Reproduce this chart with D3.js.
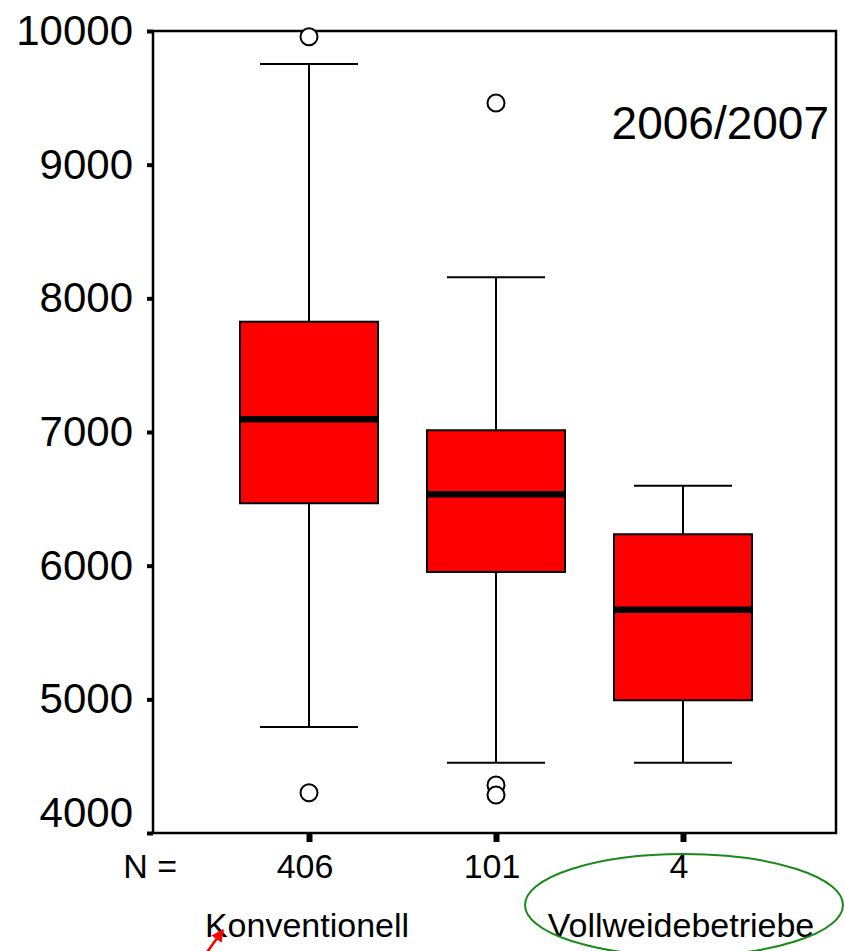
<!DOCTYPE html>
<html>
    <head>
        <title>Boxplot 2006/2007</title>
        <script src="https://d3js.org/d3.v7.min.js"></script>
        <style>
            body { margin: 0; background: white; }
            text { font-family: Arial, "Liberation Sans", sans-serif; fill: black; }
        </style>
    </head>
    <body>
        <svg id="chart" width="845" height="951"></svg>

        <script>
            // values
            var categories  = ["Konventionell", "Mitte", "Vollweidebetriebe"];
            var catLabels   = ["Konventionell", "", "Vollweidebetriebe"];
            var nCounts     = [406, 101, 4];
            var whiskerLow  = [4793, 4526, 4526];
            var q1          = [6467, 5953, 4993];
            var medians     = [7095, 6534, 5671];
            var q3          = [7825, 7013, 6235];
            var whiskerHigh = [9753, 8157, 6598];
            var outliers    = [[9957, 4301], [9461, 4359, 4284], []];
            var yTicks      = [4000, 5000, 6000, 7000, 8000, 9000, 10000];
            var title       = "2006/2007";

            svg = d3.select("#chart");

            left = 153; right = 836; top_ = 31; bottom = 833;

            y = d3.scaleLinear([4000, 10000], [bottom, top_]);
            x = d3.scalePoint(categories, [309, 683]);
            boxW = 138, capW = 98;

            // frame
            svg.append("rect")
                .attr("x", left).attr("y", top_)
                .attr("width", right - left).attr("height", bottom - top_)
                .attr("fill", "none").attr("stroke", "black").attr("stroke-width", 2.5);

            // y axis
            yAxis = svg.append("g")
                .attr("transform", "translate(" + left + ",0)")
                .call(d3.axisLeft(y).tickValues(yTicks).tickSize(6).tickPadding(14).tickFormat(d3.format("d")));
            yAxis.select(".domain").remove();
            yAxis.selectAll(".tick line").attr("stroke", "black").attr("stroke-width", 4);
            yAxis.selectAll(".tick text")
                .attr("font-size", 42)
                .attr("font-family", "Arial, 'Liberation Sans', sans-serif")
                .attr("dy", d => d == 4000 ? "-0.15em" : "0.32em");

            // x ticks
            xAxis = svg.append("g")
                .attr("transform", "translate(0," + bottom + ")")
                .call(d3.axisBottom(x).tickSize(9).tickFormat(""));
            xAxis.select(".domain").remove();
            xAxis.selectAll(".tick line").attr("stroke", "black").attr("stroke-width", 6);

            var rows = categories.map((c, i) => ({
                cat: c, lo: whiskerLow[i], q1: q1[i], med: medians[i],
                q3: q3[i], hi: whiskerHigh[i], out: outliers[i], n: nCounts[i], label: catLabels[i]
            }));

            g = svg.selectAll(".box").data(rows).enter().append("g").attr("class", "box");

            // whiskers
            g.append("line")
                .attr("x1", d => x(d.cat)).attr("x2", d => x(d.cat))
                .attr("y1", d => y(d.hi)).attr("y2", d => y(d.q3))
                .attr("stroke", "black").attr("stroke-width", 2);
            g.append("line")
                .attr("x1", d => x(d.cat)).attr("x2", d => x(d.cat))
                .attr("y1", d => y(d.q1)).attr("y2", d => y(d.lo))
                .attr("stroke", "black").attr("stroke-width", 2);
            g.append("line")
                .attr("x1", d => x(d.cat) - capW / 2).attr("x2", d => x(d.cat) + capW / 2)
                .attr("y1", d => y(d.hi)).attr("y2", d => y(d.hi))
                .attr("stroke", "black").attr("stroke-width", 2);
            g.append("line")
                .attr("x1", d => x(d.cat) - capW / 2).attr("x2", d => x(d.cat) + capW / 2)
                .attr("y1", d => y(d.lo)).attr("y2", d => y(d.lo))
                .attr("stroke", "black").attr("stroke-width", 2);

            // boxes
            g.append("rect")
                .attr("x", d => x(d.cat) - boxW / 2)
                .attr("y", d => y(d.q3))
                .attr("width", boxW)
                .attr("height", d => y(d.q1) - y(d.q3))
                .attr("fill", "#ff0000").attr("stroke", "black").attr("stroke-width", 2);

            // medians
            g.append("line")
                .attr("x1", d => x(d.cat) - boxW / 2).attr("x2", d => x(d.cat) + boxW / 2)
                .attr("y1", d => y(d.med)).attr("y2", d => y(d.med))
                .attr("stroke", "black").attr("stroke-width", 6.5);

            // outliers
            g.selectAll("circle")
                .data(d => d.out.map(v => ({cat: d.cat, v: v})))
                .enter().append("circle")
                .attr("cx", d => x(d.cat)).attr("cy", d => y(d.v))
                .attr("r", 8.5)
                .attr("fill", "white").attr("stroke", "black").attr("stroke-width", 2);

            // N labels
            svg.append("text").attr("x", 177).attr("y", 878)
                .attr("font-size", 34).attr("text-anchor", "end").text("N =");
            g.append("text")
                .attr("x", d => x(d.cat) - 4).attr("y", 878)
                .attr("font-size", 34).attr("text-anchor", "middle")
                .text(d => d.n);

            // category labels
            g.append("text")
                .attr("x", d => x(d.cat) - 2).attr("y", 937)
                .attr("font-size", 34).attr("text-anchor", "middle")
                .text(d => d.label);

            // title inside plot
            svg.append("text").attr("x", 829).attr("y", 139)
                .attr("font-size", 46).attr("text-anchor", "end").text(title);

            // green ellipse around Vollweidebetriebe
            xv = x("Vollweidebetriebe");
            svg.append("ellipse")
                .attr("cx", xv + 1).attr("cy", 905)
                .attr("rx", 159).attr("ry", 51)
                .attr("fill", "none").attr("stroke", "#1a8a1a").attr("stroke-width", 2);

            // red arrow pointing at Konventionell
            xk = x("Konventionell");
            svg.append("defs").append("marker")
                .attr("id", "arrow").attr("viewBox", "0 0 10 10")
                .attr("refX", 9).attr("refY", 5)
                .attr("markerWidth", 5).attr("markerHeight", 5)
                .attr("orient", "auto")
                .append("path").attr("d", "M0,0 L10,5 L0,10 z").attr("fill", "red");
            svg.append("line")
                .attr("x1", xk - 104).attr("y1", 955)
                .attr("x2", xk - 86).attr("y2", 930)
                .attr("stroke", "red").attr("stroke-width", 2.5)
                .attr("marker-end", "url(#arrow)");
        </script>
    </body>
</html>
